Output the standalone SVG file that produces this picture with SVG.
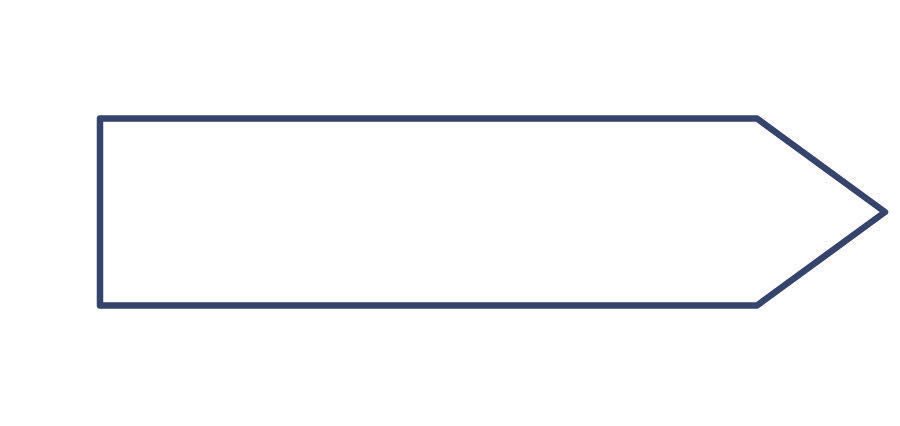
<svg xmlns="http://www.w3.org/2000/svg" width="900" height="426" viewBox="0 0 900 426">
<style>.shape{fill:#ffffff;stroke:#36436a;stroke-width:6.5;stroke-linejoin:round}</style>
<rect width="900" height="426" fill="#ffffff"/>
<g id="arrow-shape">
<path class="shape" d="M100,118.5 L757,118.5 L885,212 L757,305.5 L100,305.5 Z"/>
</g>
</svg>
